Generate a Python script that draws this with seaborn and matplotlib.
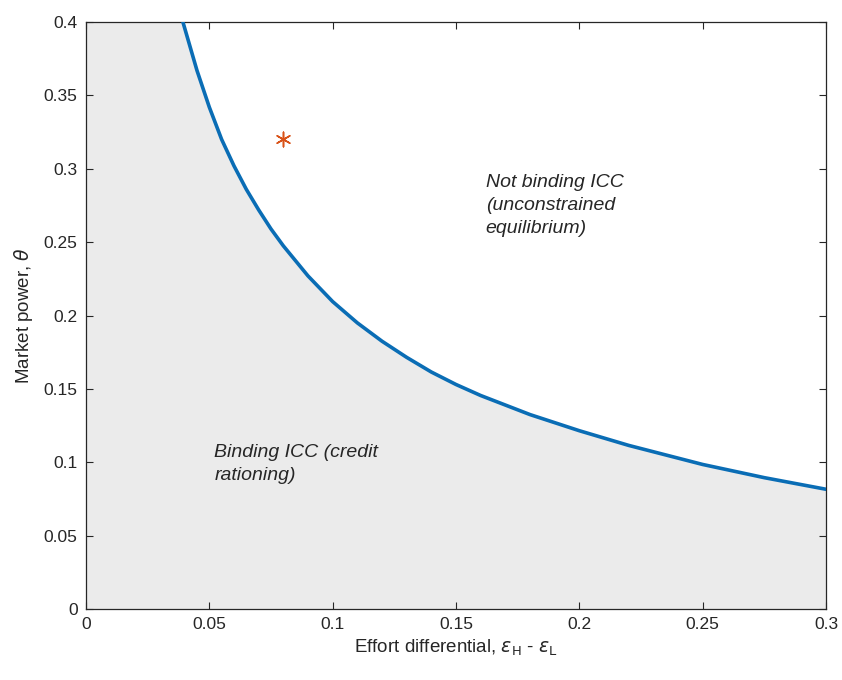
import numpy as np
import pandas as pd
import matplotlib
matplotlib.use("Agg")
import matplotlib.pyplot as plt
import seaborn as sns

# Boundary curve (binding ICC threshold)
effort_diff = [0.0393, 0.045, 0.05, 0.055, 0.06, 0.065, 0.07, 0.075, 0.08, 0.09,
               0.10, 0.11, 0.12, 0.13, 0.14, 0.15, 0.16, 0.18, 0.20, 0.22,
               0.25, 0.275, 0.30]
market_power = [0.400, 0.367, 0.342, 0.320, 0.302, 0.286, 0.272, 0.259, 0.2475, 0.227,
                0.2095, 0.195, 0.1825, 0.1715, 0.1615, 0.153, 0.1455, 0.1325, 0.1215, 0.1115,
                0.0985, 0.0895, 0.0816]
# Calibrated point
point_x = [0.08]
point_y = [0.32]

sns.set_style("ticks")
plt.rcParams['font.family'] = ['Liberation Sans', 'DejaVu Sans']
plt.rcParams['mathtext.fontset'] = 'dejavusans'

fig = plt.figure(figsize=(8.42, 6.8), dpi=100)
ax = fig.add_axes([0.1021, 0.1044, 0.8789, 0.8632])

df = pd.DataFrame({"x": effort_diff, "y": market_power})

# shaded binding region
fx = np.concatenate([[0.0], df["x"].values])
fy = np.concatenate([[0.4], df["y"].values])
ax.fill_between(fx, 0, fy, color="#ebebeb", linewidth=0, zorder=0)

sns.lineplot(data=df, x="x", y="y", ax=ax, color="#0a6db5", linewidth=2.6,
             sort=False, estimator=None, zorder=3)
# MATLAB style asterisk marker for the calibrated point
sns.scatterplot(x=point_x, y=point_y, ax=ax, marker=(6, 2, 0), color="#d95319",
                s=110, linewidth=1.1, edgecolor="#d95319", zorder=4)

ax.set_xlim(0, 0.3)
ax.set_ylim(0, 0.4)
ax.set_xticks([0, 0.05, 0.1, 0.15, 0.2, 0.25, 0.3])
ax.set_xticklabels(["0", "0.05", "0.1", "0.15", "0.2", "0.25", "0.3"])
ax.set_yticks([0, 0.05, 0.1, 0.15, 0.2, 0.25, 0.3, 0.35, 0.4])
ax.set_yticklabels(["0", "0.05", "0.1", "0.15", "0.2", "0.25", "0.3", "0.35", "0.4"])
ax.tick_params(direction="in", top=True, right=True, length=5, width=0.8,
               labelsize=12.5, colors="#262626", pad=6)
for s in ax.spines.values():
    s.set_visible(True)
    s.set_color("#262626")
    s.set_linewidth(0.9)

ax.set_xlabel(r"Effort differential, $\epsilon_{\rm H}$ - $\epsilon_{\rm L}$",
              fontsize=13.5, color="#262626", labelpad=4)
ax.set_ylabel(r"Market power, $\theta$", fontsize=13.5, color="#262626", labelpad=6)

ax.text(0.162, 0.2965, "Not binding ICC\n(unconstrained\nequilibrium)",
        fontsize=14, style="italic", va="top", ha="left", color="#262626",
        linespacing=1.45)
ax.text(0.052, 0.1125, "Binding ICC (credit\nrationing)",
        fontsize=14, style="italic", va="top", ha="left", color="#262626",
        linespacing=1.5)

fig.savefig("out.png", dpi=100)
